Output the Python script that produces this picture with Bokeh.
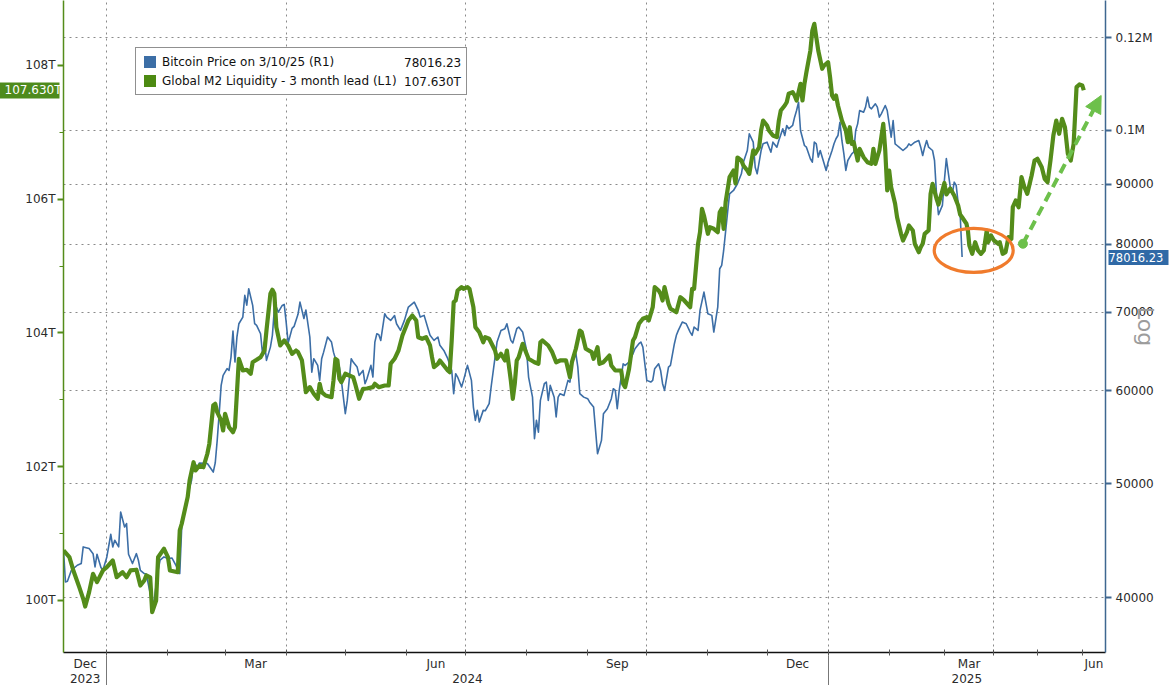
import datetime as dt
from bokeh.plotting import figure
from bokeh.models import (Range1d, LinearAxis, LogAxis, LogScale, FixedTicker, Grid,
                          Legend, LegendItem, Arrow, NormalHead)
from bokeh.embed import file_html
from bokeh.resources import INLINE

# ------------------------------------------------------------------ data
btc_dates = [
    "2023-12-10", "2023-12-11", "2023-12-12", "2023-12-14", "2023-12-17", "2023-12-19", "2023-12-20", "2023-12-23", "2023-12-25", "2023-12-26", "2023-12-27", "2023-12-29", "2023-12-30",
    "2024-01-01", "2024-01-03", "2024-01-04", "2024-01-05", "2024-01-07", "2024-01-08", "2024-01-10", "2024-01-11", "2024-01-12", "2024-01-14", "2024-01-16", "2024-01-17", "2024-01-18", "2024-01-20", "2024-01-21", "2024-01-23", "2024-01-24", "2024-01-25", "2024-01-27", "2024-01-28", "2024-01-30",
    "2024-02-01", "2024-02-03", "2024-02-05", "2024-02-07", "2024-02-08", "2024-02-10", "2024-02-12", "2024-02-13", "2024-02-14", "2024-02-16", "2024-02-17", "2024-02-21", "2024-02-24", "2024-02-25", "2024-02-26", "2024-02-27", "2024-02-28", "2024-02-29",
    "2024-03-02", "2024-03-03", "2024-03-04", "2024-03-05", "2024-03-06", "2024-03-07", "2024-03-08", "2024-03-10", "2024-03-11", "2024-03-12", "2024-03-13", "2024-03-15", "2024-03-16", "2024-03-17", "2024-03-19", "2024-03-20", "2024-03-21", "2024-03-22", "2024-03-24", "2024-03-25", "2024-03-26", "2024-03-27", "2024-03-28", "2024-03-30", "2024-03-31",
    "2024-04-01", "2024-04-02", "2024-04-04", "2024-04-05", "2024-04-07", "2024-04-08", "2024-04-10", "2024-04-11", "2024-04-13", "2024-04-14", "2024-04-15", "2024-04-17", "2024-04-18", "2024-04-19", "2024-04-20", "2024-04-22", "2024-04-24", "2024-04-25", "2024-04-26", "2024-04-28", "2024-04-29",
    "2024-05-01", "2024-05-02", "2024-05-04", "2024-05-05", "2024-05-07", "2024-05-08", "2024-05-10", "2024-05-11", "2024-05-12", "2024-05-14", "2024-05-15", "2024-05-16", "2024-05-17", "2024-05-18", "2024-05-19", "2024-05-21", "2024-05-22", "2024-05-24", "2024-05-26", "2024-05-27", "2024-05-29", "2024-05-31",
    "2024-06-02", "2024-06-05", "2024-06-07", "2024-06-08", "2024-06-10", "2024-06-12", "2024-06-13", "2024-06-15", "2024-06-17", "2024-06-18", "2024-06-20", "2024-06-22", "2024-06-24", "2024-06-25", "2024-06-26", "2024-06-27", "2024-06-29", "2024-06-30",
    "2024-07-02", "2024-07-04", "2024-07-05", "2024-07-06", "2024-07-07", "2024-07-08", "2024-07-10", "2024-07-11", "2024-07-13", "2024-07-14", "2024-07-16", "2024-07-17", "2024-07-19", "2024-07-21", "2024-07-22", "2024-07-24", "2024-07-25", "2024-07-27", "2024-07-28", "2024-07-30",
    "2024-08-01", "2024-08-02", "2024-08-04", "2024-08-05", "2024-08-06", "2024-08-07", "2024-08-08", "2024-08-10", "2024-08-11", "2024-08-12", "2024-08-13", "2024-08-15", "2024-08-16", "2024-08-17", "2024-08-18", "2024-08-20", "2024-08-22", "2024-08-23", "2024-08-24", "2024-08-26", "2024-08-27", "2024-08-28", "2024-08-30",
    "2024-09-01", "2024-09-02", "2024-09-04", "2024-09-05", "2024-09-06", "2024-09-08", "2024-09-09", "2024-09-11", "2024-09-13", "2024-09-14", "2024-09-15", "2024-09-16", "2024-09-17", "2024-09-19", "2024-09-20", "2024-09-22", "2024-09-24", "2024-09-25", "2024-09-27", "2024-09-28", "2024-09-29",
    "2024-10-01", "2024-10-03", "2024-10-04", "2024-10-05", "2024-10-07", "2024-10-08", "2024-10-09", "2024-10-10", "2024-10-12", "2024-10-13", "2024-10-15", "2024-10-16", "2024-10-17", "2024-10-19", "2024-10-21", "2024-10-23", "2024-10-24", "2024-10-25", "2024-10-27", "2024-10-28", "2024-10-30",
    "2024-11-01", "2024-11-03", "2024-11-04", "2024-11-06", "2024-11-07", "2024-11-08", "2024-11-09", "2024-11-11", "2024-11-12", "2024-11-14", "2024-11-16", "2024-11-18", "2024-11-19", "2024-11-21", "2024-11-22", "2024-11-24", "2024-11-25", "2024-11-26", "2024-11-28", "2024-11-29",
    "2024-12-01", "2024-12-02", "2024-12-03", "2024-12-04", "2024-12-06", "2024-12-07", "2024-12-09", "2024-12-10", "2024-12-11", "2024-12-12", "2024-12-14", "2024-12-15", "2024-12-16", "2024-12-17", "2024-12-18", "2024-12-20", "2024-12-21", "2024-12-23", "2024-12-24", "2024-12-25", "2024-12-26", "2024-12-27", "2024-12-28", "2024-12-30", "2024-12-31",
    "2025-01-01", "2025-01-03", "2025-01-04", "2025-01-05", "2025-01-06", "2025-01-07", "2025-01-08", "2025-01-09", "2025-01-10", "2025-01-11", "2025-01-13", "2025-01-14", "2025-01-15", "2025-01-16", "2025-01-17", "2025-01-19", "2025-01-20", "2025-01-21", "2025-01-22", "2025-01-23", "2025-01-25", "2025-01-26", "2025-01-27", "2025-01-28", "2025-01-30", "2025-01-31",
    "2025-02-01", "2025-02-02", "2025-02-03", "2025-02-04", "2025-02-05", "2025-02-06", "2025-02-08", "2025-02-10", "2025-02-11", "2025-02-12", "2025-02-14", "2025-02-16", "2025-02-17", "2025-02-18", "2025-02-19", "2025-02-20", "2025-02-21", "2025-02-23", "2025-02-24", "2025-02-25", "2025-02-26", "2025-02-28",
    "2025-03-01", "2025-03-02", "2025-03-04", "2025-03-05", "2025-03-06", "2025-03-07", "2025-03-08", "2025-03-09", "2025-03-10",
]
btc_prices = [
    43890, 41240, 41300, 42200, 42620, 42760, 44180, 44040, 43600, 42480, 43550, 42430, 42200,
    43320, 45290, 44180, 44760, 44180, 47310, 45940, 46250, 43550, 42760, 43600, 43040, 42200, 41930, 41900, 40320, 39150, 39790, 42200, 43040, 43320,
    43180, 43230, 42620, 41930, 45940, 47780, 49690, 50340, 52190, 51680, 52090, 52030, 51170, 52090, 54450, 57380, 60650, 61850,
    62670, 62460, 64110, 67470, 63490, 66660, 68450, 69350, 72360, 70990, 73320, 70950, 68450, 68230, 67120, 64540, 66030, 63700, 65380, 66910, 70500, 70720, 70020, 70950, 71090,
    68630, 65920, 67830, 68090, 69720, 71420, 69150, 70320, 66690, 62250, 63910, 63070, 61250, 63910, 64740, 66690, 66030, 64740, 63910, 62870, 61250,
    57380, 58890, 63910, 63490, 62870, 61850, 62460, 60850, 61450, 63080, 61650, 66030, 67120, 67000, 66250, 69800, 69350, 68900, 69560, 68450, 67560, 68900,
    70720, 71410, 70260, 69350, 69580, 67790, 66910, 66250, 66690, 65610, 64960, 63910, 62460, 59670, 62060, 61650, 60460, 61250,
    63080, 61250, 58130, 56630, 57750, 56440, 57750, 57700, 58510, 60460, 64110, 66030, 67560, 67790, 68450, 66250, 65920, 67790, 68010, 67350,
    64960, 61650, 59270, 54630, 56630, 55340, 58890, 60850, 61050, 58890, 60650, 59270, 57000, 59270, 59670, 59470, 61250, 61050, 63280, 64540, 62870, 59670, 59270,
    59090, 58690, 58120, 55530, 53040, 54450, 57380, 57940, 59090, 60260, 60060, 57940, 60060, 63280, 63080, 63490, 64540, 65180, 65820, 66030, 65380,
    61250, 61050, 61250, 62670, 63280, 62460, 60850, 60060, 62870, 63080, 65820, 66910, 67560, 68670, 68450, 67340, 66910, 68010, 67560, 70260, 72830,
    69800, 69580, 67340, 70720, 76250, 76750, 79030, 85200, 88310, 88900, 90080, 91860, 93970, 96150, 99350, 97740, 93050, 91860, 96150, 97420,
    97740, 96780, 95830, 97740, 96780, 98060, 100340, 99020, 100990, 100340, 100990, 102650, 104000, 105700, 100000, 97100, 96780, 94610, 93970, 97740, 97420, 94920, 96150, 93670, 92460,
    93970, 96150, 97420, 98390, 99020, 101640, 98060, 95530, 92460, 94290, 95530, 95830, 100000, 101310, 104000, 103650, 104690, 106760, 104690, 104350, 105380, 104690, 102650, 103330, 105030, 104000,
    101310, 98710, 101980, 97420, 97100, 96780, 96150, 96780, 97420, 97100, 97740, 98060, 96780, 95220, 96780, 98060, 96780, 96150, 94290, 88310, 84760, 86330,
    90660, 94630, 89480, 88310, 90360, 89780, 86670, 84930, 78016.23,
]

m2_dates = [
    "2023-12-10", "2023-12-13", "2023-12-15", "2023-12-18", "2023-12-20", "2023-12-21", "2023-12-23", "2023-12-25", "2023-12-27", "2023-12-30",
    "2024-01-01", "2024-01-04", "2024-01-06", "2024-01-09", "2024-01-11", "2024-01-13", "2024-01-16", "2024-01-18", "2024-01-20", "2024-01-21", "2024-01-23", "2024-01-24", "2024-01-26", "2024-01-27", "2024-01-30",
    "2024-02-01", "2024-02-02", "2024-02-06", "2024-02-07", "2024-02-08", "2024-02-11", "2024-02-12", "2024-02-14", "2024-02-15", "2024-02-17", "2024-02-19", "2024-02-21", "2024-02-22", "2024-02-24", "2024-02-25", "2024-02-26", "2024-02-28", "2024-02-29",
    "2024-03-01", "2024-03-03", "2024-03-05", "2024-03-06", "2024-03-08", "2024-03-10", "2024-03-12", "2024-03-14", "2024-03-15", "2024-03-17", "2024-03-19", "2024-03-21", "2024-03-22", "2024-03-24", "2024-03-25", "2024-03-26", "2024-03-27", "2024-03-29", "2024-03-31",
    "2024-04-02", "2024-04-04", "2024-04-06", "2024-04-07", "2024-04-09", "2024-04-11", "2024-04-13", "2024-04-15", "2024-04-17", "2024-04-18", "2024-04-19", "2024-04-21", "2024-04-24", "2024-04-25", "2024-04-26", "2024-04-27", "2024-04-28", "2024-04-29",
    "2024-05-01", "2024-05-03", "2024-05-05", "2024-05-06", "2024-05-08", "2024-05-10", "2024-05-12", "2024-05-15", "2024-05-16", "2024-05-18", "2024-05-21", "2024-05-23", "2024-05-24", "2024-05-26", "2024-05-28", "2024-05-30",
    "2024-06-01", "2024-06-02", "2024-06-04", "2024-06-06", "2024-06-07", "2024-06-09", "2024-06-11", "2024-06-13", "2024-06-14", "2024-06-15", "2024-06-17", "2024-06-18", "2024-06-20", "2024-06-22", "2024-06-23", "2024-06-24", "2024-06-25", "2024-06-26", "2024-06-27", "2024-06-29", "2024-06-30",
    "2024-07-02", "2024-07-03", "2024-07-05", "2024-07-06", "2024-07-08", "2024-07-10", "2024-07-11", "2024-07-13", "2024-07-16", "2024-07-17", "2024-07-19", "2024-07-21", "2024-07-22", "2024-07-24", "2024-07-25", "2024-07-26", "2024-07-27", "2024-07-28", "2024-07-30",
    "2024-08-01", "2024-08-02", "2024-08-05", "2024-08-07", "2024-08-08", "2024-08-09", "2024-08-12", "2024-08-14", "2024-08-16", "2024-08-18", "2024-08-21", "2024-08-23", "2024-08-24", "2024-08-26", "2024-08-28", "2024-08-29", "2024-08-31",
    "2024-09-03", "2024-09-04", "2024-09-06", "2024-09-07", "2024-09-09", "2024-09-12", "2024-09-13", "2024-09-15", "2024-09-18", "2024-09-19", "2024-09-20", "2024-09-22", "2024-09-24", "2024-09-25", "2024-09-27", "2024-09-29",
    "2024-10-01", "2024-10-02", "2024-10-04", "2024-10-05", "2024-10-07", "2024-10-08", "2024-10-09", "2024-10-10", "2024-10-12", "2024-10-13", "2024-10-16", "2024-10-18", "2024-10-20", "2024-10-23", "2024-10-24", "2024-10-25", "2024-10-27", "2024-10-28", "2024-10-29", "2024-10-30",
    "2024-11-01", "2024-11-02", "2024-11-04", "2024-11-06", "2024-11-07", "2024-11-08", "2024-11-09", "2024-11-10", "2024-11-12", "2024-11-14", "2024-11-15", "2024-11-16", "2024-11-18", "2024-11-19", "2024-11-21", "2024-11-22", "2024-11-24", "2024-11-25", "2024-11-27", "2024-11-28", "2024-11-29",
    "2024-12-01", "2024-12-02", "2024-12-04", "2024-12-06", "2024-12-07", "2024-12-08", "2024-12-10", "2024-12-11", "2024-12-12", "2024-12-14", "2024-12-15", "2024-12-16", "2024-12-17", "2024-12-18", "2024-12-19", "2024-12-20", "2024-12-21", "2024-12-23", "2024-12-24", "2024-12-25", "2024-12-26", "2024-12-27", "2024-12-29", "2024-12-30",
    "2025-01-01", "2025-01-02", "2025-01-03", "2025-01-04", "2025-01-05", "2025-01-06", "2025-01-08", "2025-01-10", "2025-01-11", "2025-01-12", "2025-01-13", "2025-01-14", "2025-01-16", "2025-01-17", "2025-01-19", "2025-01-21", "2025-01-23", "2025-01-24", "2025-01-25", "2025-01-27", "2025-01-28", "2025-01-29", "2025-01-30", "2025-01-31",
    "2025-02-01", "2025-02-02", "2025-02-04", "2025-02-05", "2025-02-07", "2025-02-08", "2025-02-10", "2025-02-11", "2025-02-13", "2025-02-14", "2025-02-16", "2025-02-17", "2025-02-18", "2025-02-19", "2025-02-21", "2025-02-22", "2025-02-23", "2025-02-25", "2025-02-26", "2025-02-28",
    "2025-03-01", "2025-03-02", "2025-03-04", "2025-03-06", "2025-03-08", "2025-03-09", "2025-03-10", "2025-03-13", "2025-03-14", "2025-03-15", "2025-03-17", "2025-03-19", "2025-03-21", "2025-03-23", "2025-03-25", "2025-03-27", "2025-03-28", "2025-03-30",
    "2025-04-01", "2025-04-04", "2025-04-05", "2025-04-07", "2025-04-09", "2025-04-11", "2025-04-13", "2025-04-14", "2025-04-16", "2025-04-18", "2025-04-20", "2025-04-22", "2025-04-23", "2025-04-24", "2025-04-27", "2025-04-29",
    "2025-05-01", "2025-05-04", "2025-05-06", "2025-05-08", "2025-05-10", "2025-05-12", "2025-05-14", "2025-05-16", "2025-05-18", "2025-05-20", "2025-05-22", "2025-05-24", "2025-05-26", "2025-05-27", "2025-05-28", "2025-05-30",
    "2025-06-01", "2025-06-02",
]
m2_values = [
    100.748, 100.647, 100.449, 100.199, 100.025, 99.910, 100.124, 100.399, 100.274, 100.449,
    100.498, 100.598, 100.348, 100.423, 100.348, 100.449, 100.460, 100.224, 100.299, 100.374, 100.344, 99.825, 100.000, 100.647, 100.773,
    100.647, 100.449, 100.423, 101.047, 101.147, 101.545, 101.794, 102.068, 101.944, 102.019, 101.993, 102.194, 102.343, 102.916, 102.941, 102.816, 102.692, 102.542,
    102.792, 102.591, 102.517, 102.591, 103.614, 103.439, 103.450, 103.390, 103.563, 103.599, 103.638, 103.738, 104.037, 104.586, 104.646, 104.586, 104.087, 103.813, 103.888,
    103.813, 103.689, 103.738, 103.713, 103.589, 103.115, 103.190, 103.091, 103.016, 103.240, 103.115, 103.065, 103.040, 103.290, 103.614, 103.589, 103.315, 103.264,
    103.390, 103.364, 103.339, 103.240, 103.016, 103.166, 103.170, 103.190, 103.240, 103.190, 103.215, 103.215, 103.539, 103.614, 103.738, 103.963,
    104.112, 104.187, 104.262, 104.187, 103.937, 103.913, 103.937, 103.813, 103.638, 103.489, 103.539, 103.589, 103.514, 103.439, 103.414, 103.888, 104.461, 104.486, 104.635, 104.685, 104.661,
    104.685, 104.661, 104.386, 104.087, 104.012, 103.862, 103.937, 103.913, 103.738, 103.614, 103.689, 103.589, 103.738, 103.290, 103.016, 103.240, 103.589, 103.638, 103.838,
    103.689, 103.614, 103.563, 103.539, 103.862, 103.888, 103.813, 103.713, 103.563, 103.589, 103.589, 103.339, 103.563, 103.764, 104.037, 104.012, 103.764,
    103.713, 103.614, 103.788, 103.539, 103.563, 103.663, 103.514, 103.439, 103.439, 103.240, 103.190, 103.465, 103.888, 103.937, 104.137, 104.212,
    104.236, 104.187, 104.386, 104.685, 104.635, 104.586, 104.486, 104.685, 104.437, 104.362, 104.311, 104.535, 104.486, 104.386, 104.661, 104.661, 105.334, 105.507, 105.857, 105.757,
    105.483, 105.582, 105.558, 105.507, 105.806, 105.857, 105.558, 105.956, 106.330, 106.430, 106.235, 106.624, 106.579, 106.505, 106.430, 106.380, 106.729, 106.680, 106.778, 107.028, 107.177,
    107.103, 107.028, 106.953, 106.928, 107.177, 107.327, 107.402, 107.451, 107.577, 107.601, 107.551, 107.477, 107.601, 107.726, 107.477, 107.726, 107.900, 108.224, 108.523, 108.623, 108.423, 108.224, 107.951, 108.000,
    108.049, 107.825, 107.551, 107.502, 107.551, 107.402, 107.177, 107.028, 106.853, 107.077, 106.829, 106.853, 106.579, 106.754, 106.629, 106.554, 106.530, 106.754, 106.530, 106.729, 106.928, 107.128, 106.729, 106.131,
    106.430, 106.180, 105.932, 105.731, 105.483, 105.383, 105.507, 105.607, 105.533, 105.334, 105.208, 105.283, 105.334, 105.483, 105.533, 106.081, 106.231, 106.011, 105.921, 106.131,
    106.243, 106.071, 106.161, 106.056, 105.906, 105.772, 105.731, 105.633, 105.533, 105.308, 105.184, 105.358, 105.234, 105.184, 105.234, 105.533, 105.358, 105.458,
    105.383, 105.334, 105.358, 105.184, 105.208, 105.433, 105.408, 105.881, 105.981, 105.881, 106.330, 106.180, 106.131, 106.081, 106.355, 106.579,
    106.605, 106.479, 106.306, 106.255, 106.579, 106.953, 107.177, 106.979, 107.203, 107.077, 106.680, 106.579, 106.829, 107.252, 107.676, 107.716,
    107.701, 107.630,
]

m2_ticks = [100, 102, 104, 106, 108]
m2_minor_ticks = [101, 103, 105, 107]
m2_tick_labels = ["100T", "102T", "104T", "106T", "108T"]
btc_ticks = [40000, 50000, 60000, 70000, 80000, 90000, 100000, 120000]
btc_tick_labels = ["40000", "50000", "60000", "70000", "80000", "90000", "0.1M", "0.12M"]
month_label_starts = ["2023-12-01", "2024-03-01", "2024-06-01", "2024-09-01", "2024-12-01", "2025-03-01", "2025-06-01"]
month_label_texts = ["Dec", "Mar", "Jun", "Sep", "Dec", "Mar", "Jun"]
years = [2023, 2024, 2025]

btc_last = 78016.23
m2_last = 107.630
btc_name = "Bitcoin Price on 3/10/25 (R1)"
m2_name = "Global M2 Liquidity - 3 month lead (L1)"
btc_last_text = "78016.23"
m2_last_text = "107.630T"
scale_note = "Log"

highlight_date, highlight_price = "2025-03-18", 79030
arrow_from_date, arrow_from_price = "2025-04-21", 80080
arrow_to_date, arrow_to_price = "2025-06-14", 107110

x_first, x_last = "2023-12-10", "2025-06-17"
asof = "2025-03-10"
m2_range = (99.222, 108.972)
btc_range = (35914, 129050)

# ------------------------------------------------------------------ date axis (future part compressed, as in the reference)
D0 = dt.date.fromisoformat(x_first)
DA = dt.date.fromisoformat(asof)
FUTURE_RATE = 0.735


def xpos(d):
    if isinstance(d, str):
        d = dt.date.fromisoformat(d)
    n = (d - D0).days
    k = (DA - D0).days
    v = float(n) if n <= k else k + (n - k) * FUTURE_RATE
    return round(v, 4)


def next_month(d):
    return dt.date(d.year + (d.month == 12), d.month % 12 + 1, 1)


XMIN, XMAX = 0.0, xpos(x_last)
LAST = dt.date.fromisoformat(x_last)

month_bounds, quarter_bounds = [], []
d = dt.date(2024, 1, 1)
while d <= LAST:
    month_bounds.append(xpos(d))
    if d.month in (1, 4, 7, 10):
        quarter_bounds.append(xpos(d))
    d = next_month(d)

month_centers = []
for s in month_label_starts:
    sd = dt.date.fromisoformat(s)
    a = max(XMIN, xpos(sd))
    b = min(XMAX, xpos(next_month(sd)))
    month_centers.append(round((a + b) / 2, 4))

year_centers, year_bounds = [], []
for y in years:
    a = max(XMIN, xpos(dt.date(y, 1, 1)))
    b = min(XMAX, xpos(dt.date(y + 1, 1, 1)))
    year_centers.append(round((a + b) / 2, 4))
    if xpos(dt.date(y, 1, 1)) > XMIN:
        year_bounds.append(xpos(dt.date(y, 1, 1)))

btc_x = [xpos(s) for s in btc_dates]
m2_x = [xpos(s) for s in m2_dates]

# ------------------------------------------------------------------ style
GREEN = "#548c1a"
GREEN_SQ = "#4d8a12"
GREEN_TAG = "#4e8b1c"
BLUE = "#3c6ea6"
BLUE_TAG = "#2f69a6"
FONT = "DejaVu Sans"
GRID = "#8a8a8a"
W, H = 1169, 685
FL, FR, FT, FB = 63, 64, 0, 33          # frame margins
FW, FH = W - FL - FR, H - FT - FB

p = figure(width=W, height=H, x_range=Range1d(XMIN, XMAX),
           y_range=Range1d(*m2_range), x_axis_type=None, y_axis_type=None,
           output_backend="svg", toolbar_location=None,
           min_border_left=FL, min_border_right=FR, min_border_top=FT, min_border_bottom=FB,
           outline_line_color=None, background_fill_color="white", border_fill_color="white")
p.extra_y_ranges = {"btc": Range1d(*btc_range)}
p.extra_y_scales = {"btc": LogScale()}

# grids
p.add_layout(Grid(dimension=0, ticker=FixedTicker(ticks=quarter_bounds),
                  grid_line_color=GRID, grid_line_dash="2 4", grid_line_width=1))
p.add_layout(Grid(dimension=1, ticker=FixedTicker(ticks=btc_ticks), y_range_name="btc",
                  grid_line_color=GRID, grid_line_dash="2 4", grid_line_width=1))

lbl = dict(major_label_text_font=FONT, major_label_text_font_size="12px",
           major_label_text_color="#2b2b2b")

# left axis (L1) + last-value tag
left_axis = LinearAxis(ticker=FixedTicker(ticks=m2_ticks, minor_ticks=m2_minor_ticks),
                       major_label_overrides=dict(zip(m2_ticks, m2_tick_labels)),
                       axis_line_color=GREEN, axis_line_width=1.5,
                       major_tick_line_color=GREEN, major_tick_line_width=2,
                       major_tick_out=6, major_tick_in=0,
                       minor_tick_line_color=GREEN, minor_tick_out=4, minor_tick_in=0,
                       major_label_standoff=2, **lbl)
p.add_layout(left_axis, "left")
left_tag = LinearAxis(ticker=FixedTicker(ticks=[m2_last], minor_ticks=[]),
                      major_label_overrides={m2_last: m2_last_text},
                      axis_line_color=None, minor_tick_line_color=None,
                      major_tick_line_color=GREEN_TAG, major_tick_line_width=16,
                      major_tick_in=37, major_tick_out=25, major_label_standoff=-64,
                      major_label_text_font=FONT, major_label_text_font_size="12px",
                      major_label_text_color="white")
p.add_layout(left_tag, "left")

# right axis (R1, log) + last-value tag + "Log"
right_axis = LogAxis(y_range_name="btc", ticker=FixedTicker(ticks=btc_ticks, minor_ticks=[]),
                     major_label_overrides=dict(zip(btc_ticks, btc_tick_labels)),
                     axis_line_color="#3f6790", axis_line_width=1.5,
                     major_tick_line_color="#3f6790", major_tick_line_width=2,
                     major_tick_out=6, major_tick_in=0, minor_tick_line_color=None,
                     major_label_standoff=4, **lbl)
p.add_layout(right_axis, "right")
right_tag = LogAxis(y_range_name="btc", ticker=FixedTicker(ticks=[btc_last], minor_ticks=[]),
                    major_label_overrides={btc_last: btc_last_text},
                    axis_line_color=None, minor_tick_line_color=None,
                    major_tick_line_color=BLUE_TAG, major_tick_line_width=15,
                    major_tick_in=48, major_tick_out=12, major_label_standoff=-60,
                    major_label_text_font=FONT, major_label_text_font_size="11.5px",
                    major_label_text_color="white",
                    axis_label=scale_note, axis_label_standoff=-33,
                    axis_label_text_font=FONT, axis_label_text_font_size="22px",
                    axis_label_text_font_style="normal", axis_label_text_color="#9c9c9c")
p.add_layout(right_tag, "right")

# two-level date axis
month_axis = LinearAxis(ticker=FixedTicker(ticks=month_centers, minor_ticks=month_bounds),
                        major_label_overrides=dict(zip(month_centers, month_label_texts)),
                        axis_line_color="#111111", axis_line_width=1.5,
                        major_tick_line_color=None, major_tick_out=0, major_tick_in=0,
                        minor_tick_line_color="#555555", minor_tick_in=3, minor_tick_out=3,
                        major_label_standoff=1, **lbl)
p.add_layout(month_axis, "below")
year_axis = LinearAxis(ticker=FixedTicker(ticks=year_centers, minor_ticks=year_bounds),
                       major_label_overrides=dict(zip(year_centers, [str(y) for y in years])),
                       axis_line_color=None, major_tick_line_color=None,
                       major_tick_out=0, major_tick_in=0,
                       minor_tick_line_color="#777777", minor_tick_in=18, minor_tick_out=15,
                       major_label_standoff=-15, **lbl)
p.add_layout(year_axis, "below")

# series
p.line(x=btc_x, y=btc_prices, y_range_name="btc", line_color=BLUE, line_width=1.6,
       line_join="round")
p.line(x=m2_x, y=m2_values, line_color=GREEN, line_width=4.2, line_join="round")

# annotations on the chart
p.ellipse(x=[xpos(highlight_date)], y=[highlight_price], width=79, height=44,
          width_units="screen", height_units="screen", y_range_name="btc",
          fill_color=None, line_color="#f07b2c", line_width=3.2)
p.scatter(x=[xpos(arrow_from_date)], y=[arrow_from_price], y_range_name="btc",
          size=9, marker="circle", fill_color="#6dc04b", line_color="#6dc04b")
p.add_layout(Arrow(end=NormalHead(size=17, fill_color="#6dc04b", line_color="#6dc04b"),
                   x_start=xpos(arrow_from_date), y_start=arrow_from_price,
                   x_end=xpos(arrow_to_date), y_end=arrow_to_price, y_range_name="btc",
                   line_color="#6dc04b", line_width=4, line_dash="10 6"))

# legend (square swatches via hidden proxies)
nan = float("nan")
leg_btc = p.quad(left=[nan], right=[nan], top=[nan], bottom=[nan], fill_color=BLUE, line_color=None)
leg_m2 = p.quad(left=[nan], right=[nan], top=[nan], bottom=[nan], fill_color=GREEN_SQ, line_color=None)
LEG_LEFT, LEG_TOP, LEG_H = 135, 47, 48
legend = Legend(items=[LegendItem(label=btc_name, renderers=[leg_btc]),
                       LegendItem(label=m2_name, renderers=[leg_m2])],
                location=(LEG_LEFT - FL, FH - (LEG_TOP + LEG_H)), orientation="vertical",
                label_text_font=FONT, label_text_font_size="12px", label_text_color="#111111",
                glyph_width=15, glyph_height=15, label_height=15, label_width=298,
                label_standoff=5, spacing=4, padding=6, margin=0,
                border_line_color="#222222", border_line_width=1,
                background_fill_color="white", background_fill_alpha=1)
p.add_layout(legend)

# current values column inside the legend box (second, transparent legend on top)
val_a = p.quad(left=[nan], right=[nan], top=[nan], bottom=[nan], fill_color=None, line_color=None)
val_b = p.quad(left=[nan], right=[nan], top=[nan], bottom=[nan], fill_color=None, line_color=None)
VAL_LEFT = 410
values_legend = Legend(items=[LegendItem(label=btc_last_text, renderers=[val_a]),
                              LegendItem(label=m2_last_text, renderers=[val_b])],
                       location=(VAL_LEFT - FL - 7, FH - (LEG_TOP + LEG_H) + 6),
                       orientation="vertical",
                       label_text_font=FONT, label_text_font_size="12px",
                       label_text_color="#111111",
                       glyph_width=1, glyph_height=15, label_height=15, label_standoff=0,
                       spacing=4, padding=6, margin=0,
                       border_line_color=None, background_fill_alpha=0)
p.add_layout(values_legend)

open("out.html", "w").write(file_html(p, INLINE))
